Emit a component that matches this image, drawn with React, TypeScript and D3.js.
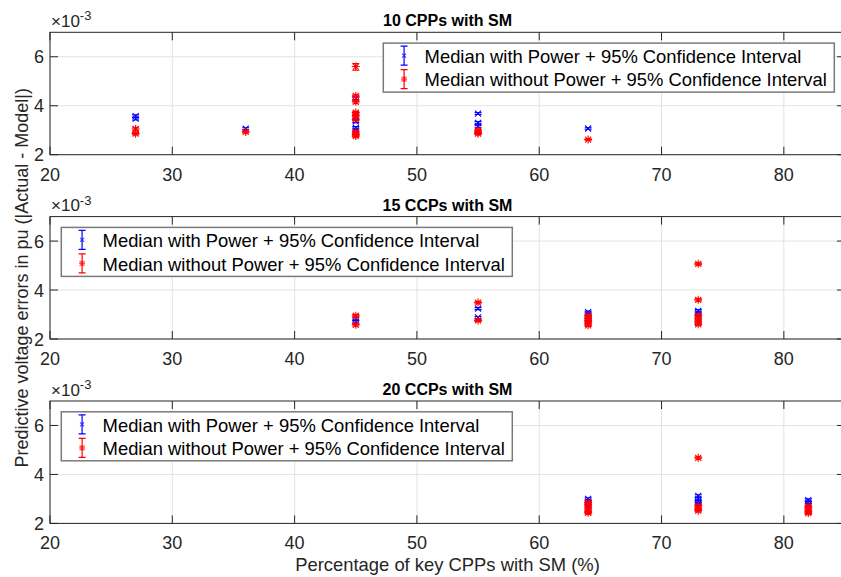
import { useEffect, useRef } from "react";
import * as d3 from "d3";

// [x (%), median, lower CI, upper CI] -- errors in units of 1e-3 pu
type Pt = [number, number, number, number];

const X_TICKS = [20, 30, 40, 50, 60, 70, 80];
const Y_TICKS = [2, 4, 6];
const TITLES = ["10 CPPs with SM", "15 CCPs with SM", "20 CCPs with SM"];
const LEGEND_LABELS = [
  "Median with Power + 95% Confidence Interval",
  "Median without Power + 95% Confidence Interval",
];

const withPower10: Pt[] = [
  [27, 3.58, 3.53, 3.63],
  [27, 3.47, 3.42, 3.52],
  [36, 3.06, 3.02, 3.1],
  [45, 4.3, 4.25, 4.35],
  [45, 3.54, 3.49, 3.59],
  [45, 3.36, 3.31, 3.41],
  [45, 3.1, 3.05, 3.15],
  [45, 3.0, 2.95, 3.05],
  [55, 3.68, 3.64, 3.72],
  [55, 3.3, 3.25, 3.35],
  [55, 3.17, 3.12, 3.22],
  [64, 3.07, 3.04, 3.1],
];
const withoutPower10: Pt[] = [
  [27, 3.05, 3.0, 3.1],
  [27, 2.86, 2.81, 2.91],
  [36, 2.93, 2.89, 2.97],
  [45, 5.6, 5.45, 5.72],
  [45, 4.4, 4.35, 4.45],
  [45, 4.16, 4.11, 4.21],
  [45, 3.72, 3.67, 3.77],
  [45, 3.6, 3.55, 3.65],
  [45, 3.45, 3.4, 3.5],
  [45, 2.93, 2.88, 2.98],
  [45, 2.83, 2.78, 2.88],
  [45, 2.76, 2.71, 2.81],
  [55, 3.0, 2.96, 3.04],
  [55, 2.92, 2.88, 2.96],
  [55, 2.86, 2.82, 2.9],
  [64, 2.62, 2.59, 2.65],
];

const withPower15: Pt[] = [
  [45, 2.82, 2.77, 2.87],
  [45, 2.7, 2.65, 2.75],
  [55, 3.24, 3.2, 3.28],
  [55, 2.88, 2.84, 2.92],
  [64, 3.1, 3.06, 3.14],
  [64, 3.0, 2.95, 3.05],
  [64, 2.9, 2.85, 2.95],
  [64, 2.8, 2.75, 2.85],
  [73, 3.15, 3.1, 3.2],
  [73, 3.05, 3.0, 3.1],
  [73, 2.95, 2.9, 3.0],
];
const withoutPower15: Pt[] = [
  [45, 2.95, 2.9, 3.0],
  [45, 2.58, 2.53, 2.63],
  [55, 3.49, 3.44, 3.54],
  [55, 2.76, 2.71, 2.81],
  [64, 2.95, 2.9, 3.0],
  [64, 2.85, 2.8, 2.9],
  [64, 2.75, 2.7, 2.8],
  [64, 2.65, 2.6, 2.7],
  [64, 2.56, 2.51, 2.61],
  [73, 5.07, 5.03, 5.11],
  [73, 3.6, 3.55, 3.65],
  [73, 2.95, 2.9, 3.0],
  [73, 2.82, 2.77, 2.87],
  [73, 2.7, 2.65, 2.75],
  [73, 2.6, 2.55, 2.65],
];

const withPower20: Pt[] = [
  [64, 3.0, 2.95, 3.05],
  [64, 2.9, 2.85, 2.95],
  [64, 2.8, 2.75, 2.85],
  [64, 2.72, 2.67, 2.77],
  [73, 3.12, 3.07, 3.17],
  [73, 3.0, 2.95, 3.05],
  [73, 2.88, 2.83, 2.93],
  [73, 2.8, 2.75, 2.85],
  [82, 2.95, 2.9, 3.0],
  [82, 2.85, 2.8, 2.9],
  [82, 2.76, 2.71, 2.81],
];
const withoutPower20: Pt[] = [
  [64, 2.85, 2.8, 2.9],
  [64, 2.72, 2.67, 2.77],
  [64, 2.6, 2.55, 2.65],
  [64, 2.5, 2.45, 2.55],
  [64, 2.43, 2.38, 2.48],
  [73, 4.68, 4.64, 4.72],
  [73, 2.72, 2.67, 2.77],
  [73, 2.62, 2.57, 2.67],
  [73, 2.52, 2.47, 2.57],
  [82, 2.7, 2.65, 2.75],
  [82, 2.6, 2.55, 2.65],
  [82, 2.5, 2.45, 2.55],
  [82, 2.42, 2.37, 2.47],
];

const W = 841;
const H = 577;
const FONT = "'Liberation Sans', Arial, Helvetica, sans-serif";
const BLUE = "#0000ff";
const RED = "#ff0000";

const PANELS = [
  { title: TITLES[0], withP: withPower10, withoutP: withoutPower10, top: 32.3, legendRight: true },
  { title: TITLES[1], withP: withPower15, withoutP: withoutPower15, top: 216.6, legendRight: false },
  { title: TITLES[2], withP: withPower20, withoutP: withoutPower20, top: 401, legendRight: false },
];

const PLOT_LEFT = 50;
const PLOT_RIGHT = 845;
const PLOT_H = 122.4;

const X_MARK = "M-3,-3L3,3M-3,3L3,-3";
const STAR_MARK = "M-3,-3L3,3M-3,3L3,-3M0,-4V4M-4,0H4";

function drawErrorBars(
  g: d3.Selection<SVGGElement, unknown, null, undefined>,
  pts: Pt[],
  x: d3.ScaleLinear<number, number>,
  y: d3.ScaleLinear<number, number>,
  color: string,
  marker: string
) {
  const cap = 3.5;
  const bar = g
    .append("g")
    .selectAll("g")
    .data(pts)
    .join("g")
    .attr("transform", (d) => `translate(${x(d[0])},0)`)
    .attr("stroke", color)
    .attr("stroke-width", 1.1)
    .attr("fill", "none");
  bar
    .append("path")
    .attr(
      "d",
      (d) =>
        `M0,${y(d[2])}V${y(d[3])}M${-cap},${y(d[2])}H${cap}M${-cap},${y(d[3])}H${cap}`
    );
  bar
    .append("path")
    .attr("transform", (d) => `translate(0,${y(d[1])})`)
    .attr("d", marker);
}

function render(svgEl: SVGSVGElement) {
  const svg = d3.select(svgEl);
  svg.selectAll("*").remove();
  svg.append("rect").attr("width", W).attr("height", H).attr("fill", "#fff");

  const x = d3.scaleLinear().domain([20, 85]).range([PLOT_LEFT, PLOT_RIGHT]);

  PANELS.forEach((p) => {
    const bottom = p.top + PLOT_H;
    const y = d3.scaleLinear().domain([2, 7]).range([bottom, p.top]);
    const g = svg.append("g");

    // grid
    g.append("g")
      .selectAll("line")
      .data(X_TICKS)
      .join("line")
      .attr("x1", (d) => x(d))
      .attr("x2", (d) => x(d))
      .attr("y1", p.top)
      .attr("y2", bottom)
      .attr("stroke", "#e3e3e3")
      .attr("stroke-width", 1);
    g.append("g")
      .selectAll("line")
      .data(Y_TICKS)
      .join("line")
      .attr("x1", PLOT_LEFT)
      .attr("x2", PLOT_RIGHT)
      .attr("y1", (d) => y(d))
      .attr("y2", (d) => y(d))
      .attr("stroke", "#e3e3e3")
      .attr("stroke-width", 1);

    // data
    drawErrorBars(g, p.withP, x, y, BLUE, X_MARK);
    drawErrorBars(g, p.withoutP, x, y, RED, STAR_MARK);

    // box + ticks
    g.append("rect")
      .attr("x", PLOT_LEFT)
      .attr("y", p.top)
      .attr("width", PLOT_RIGHT - PLOT_LEFT)
      .attr("height", PLOT_H)
      .attr("fill", "none")
      .attr("stroke", "#262626")
      .attr("stroke-width", 1);
    const tl = 8;
    const ticks = g.append("g").attr("stroke", "#262626").attr("stroke-width", 1);
    X_TICKS.forEach((t) => {
      ticks.append("line").attr("x1", x(t)).attr("x2", x(t)).attr("y1", bottom).attr("y2", bottom - tl);
      ticks.append("line").attr("x1", x(t)).attr("x2", x(t)).attr("y1", p.top).attr("y2", p.top + tl);
    });
    Y_TICKS.forEach((t) => {
      ticks.append("line").attr("x1", PLOT_LEFT).attr("x2", PLOT_LEFT + tl).attr("y1", y(t)).attr("y2", y(t));
      ticks.append("line").attr("x1", PLOT_RIGHT).attr("x2", PLOT_RIGHT - tl).attr("y1", y(t)).attr("y2", y(t));
    });

    // tick labels
    g.append("g")
      .selectAll("text")
      .data(X_TICKS)
      .join("text")
      .attr("x", (d) => x(d))
      .attr("y", bottom + 26)
      .attr("text-anchor", "middle")
      .attr("font-family", FONT)
      .attr("font-size", 18)
      .attr("fill", "#262626")
      .text((d) => d);
    g.append("g")
      .selectAll("text")
      .data(Y_TICKS)
      .join("text")
      .attr("x", PLOT_LEFT - 6)
      .attr("y", (d) => y(d) + 6.5)
      .attr("text-anchor", "end")
      .attr("font-family", FONT)
      .attr("font-size", 18)
      .attr("fill", "#262626")
      .text((d) => d);

    // exponent
    const ex = g
      .append("text")
      .attr("x", PLOT_LEFT + 1)
      .attr("y", p.top - 5.5)
      .attr("font-family", FONT)
      .attr("font-size", 17)
      .attr("fill", "#262626");
    ex.append("tspan").text("\u00d710");
    ex.append("tspan").attr("dy", -6.5).attr("font-size", 13).text("-3");

    // title
    g.append("text")
      .attr("x", (PLOT_LEFT + PLOT_RIGHT) / 2)
      .attr("y", p.top - 6)
      .attr("text-anchor", "middle")
      .attr("font-family", FONT)
      .attr("font-size", 16)
      .attr("font-weight", "bold")
      .attr("fill", "#000")
      .text(p.title);

    // legend
    const lw = 451;
    const lh = 49;
    const lx = p.legendRight ? PLOT_RIGHT - 10.7 - lw : PLOT_LEFT + 11.3;
    const ly = p.top + 10.8;
    const lg = g.append("g").attr("transform", `translate(${lx},${ly})`);
    lg.append("rect")
      .attr("width", lw)
      .attr("height", lh)
      .attr("fill", "#fff")
      .attr("stroke", "#7a7a7a")
      .attr("stroke-width", 1.5);
    [BLUE, RED].forEach((c, i) => {
      const cy = 12.5 + i * 23.5;
      const sym = lg
        .append("g")
        .attr("transform", `translate(20.8,${cy})`)
        .attr("stroke", c)
        .attr("fill", "none")
        .attr("stroke-width", 1.2);
      sym.append("path").attr("d", "M0,-9.5V9.5M-3.5,-9.5H3.5M-3.5,9.5H3.5");
      sym
        .append("path")
        .attr("d", i === 0 ? "M-2,-2L2,2M-2,2L2,-2" : "M-2.5,-2.5L2.5,2.5M-2.5,2.5L2.5,-2.5M0,-3V3M-3,0H3")
        .attr("stroke-opacity", 0.7);
      lg.append("text")
        .attr("x", 41.3)
        .attr("y", cy + 7.3)
        .attr("font-family", FONT)
        .attr("font-size", 18.4)
        .attr("fill", "#000")
        .text(LEGEND_LABELS[i]);
    });
  });

  // axis labels
  svg
    .append("text")
    .attr("transform", `translate(27.5,${(PANELS[0].top + PANELS[2].top + PLOT_H) / 2}) rotate(-90)`)
    .attr("text-anchor", "middle")
    .attr("font-family", FONT)
    .attr("font-size", 18)
    .attr("fill", "#262626")
    .text("Predictive voltage errors in pu (|Actual - Model|)");
  svg
    .append("text")
    .attr("x", (PLOT_LEFT + PLOT_RIGHT) / 2)
    .attr("y", 571)
    .attr("text-anchor", "middle")
    .attr("font-family", FONT)
    .attr("font-size", 18.4)
    .attr("fill", "#262626")
    .text("Percentage of key CPPs with SM (%)");
}

export default function App() {
  const svgRef = useRef<SVGSVGElement>(null);

  useEffect(() => {
    if (svgRef.current) render(svgRef.current);
  }, []);

  return (
    <svg
      ref={svgRef}
      width={W}
      height={H}
      style={{ position: "absolute", left: 0, top: 0, display: "block" }}
    />
  );
}
